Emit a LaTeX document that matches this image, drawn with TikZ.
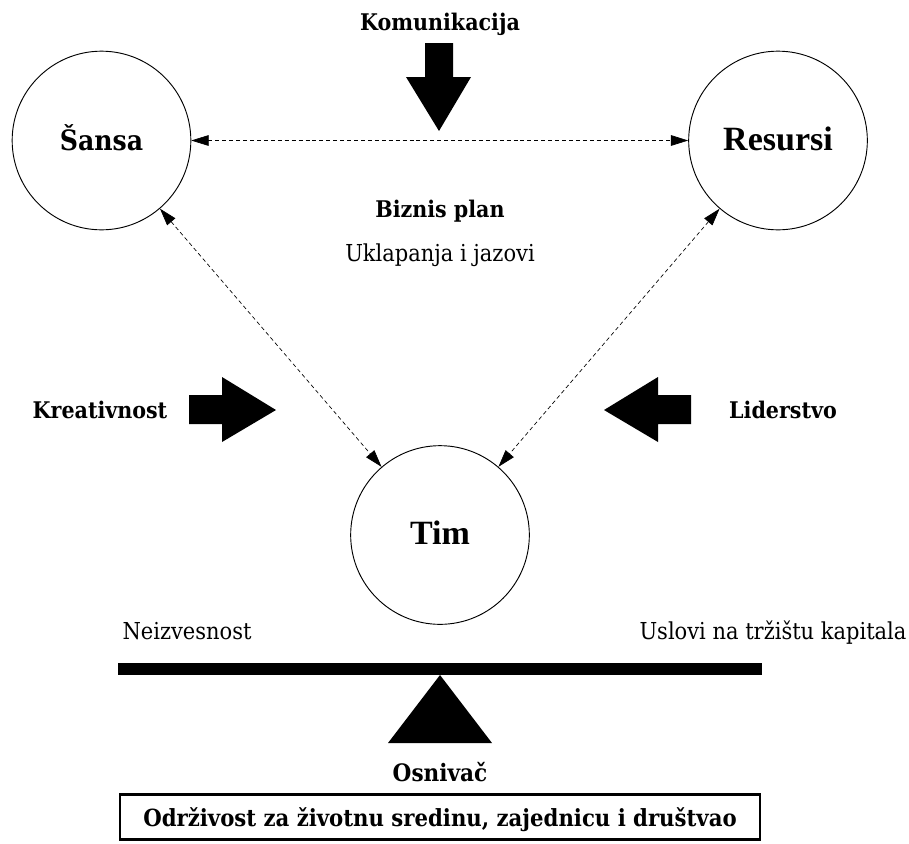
\documentclass[tikz,border=0pt]{standalone}
\usepackage{fontspec}
\setmainfont{DejaVuSerifCondensed.ttf}[BoldFont=DejaVuSerifCondensed-Bold.ttf]
\newfontfamily\plainserif{Liberation Serif}
\usetikzlibrary{arrows.meta}
\begin{document}
\begin{tikzpicture}[x=0.75pt,y=-0.75pt,
  hub/.style={circle,draw,line width=0.7pt,minimum size=134pt,inner sep=0pt,
    text height=14.5pt,text depth=0pt,font=\fontsize{21}{24}\selectfont\bfseries},
  bighub/.style={hub,font=\fontsize{25.5}{28}\selectfont\plainserif\bfseries},
  lbl/.style={anchor=base,inner sep=0pt,font=\fontsize{17.2}{20}\selectfont\bfseries},
  note/.style={anchor=base,inner sep=0pt,font=\fontsize{17.5}{20}\selectfont},
  link/.style={dash pattern=on 3pt off 2.2pt,line width=0.5pt,
    {Triangle[length=13pt,width=8pt]}-{Triangle[length=13pt,width=8pt]}},
  blockarrow/.style={fill=black,draw=none}]
\useasboundingbox (0,0) rectangle (909,843);

% the three elements
\node[hub] (sansa) at (101.5,140.5) {Šansa};
\node[bighub] (resursi) at (778,140.5) {Resursi};
\node[bighub] (tim) at (440,535) {Tim};

% dashed links between them
\draw[link] (sansa) -- (resursi);
\draw[link] (sansa) -- (tim);
\draw[link] (resursi) -- (tim);

% labels
\node[lbl] (kom) at (440,30) {Komunikacija};
\node[lbl] (biz) at (440,217) {Biznis plan};
\node[note] (ukl) at (440,261) {Uklapanja i jazovi};
\node[lbl] (kre) at (100,418) {Kreativnost};
\node[lbl] (lid) at (783,418) {Liderstvo};
\node[note] (nei) at (187,639) {Neizvesnost};
\node[note] (usl) at (773,639) {Uslovi na tržištu kapitala};
\node[lbl,font=\fontsize{18}{22}\selectfont\bfseries] (osn) at (440,781) {Osnivač};

% block arrows
\fill[blockarrow] (425,43) -- (453,43) -- (453,77) -- (471,77) -- (439,131)
  -- (406,77) -- (425,77) -- cycle;
\fill[blockarrow] (189,395) -- (222,395) -- (222,377) -- (276,410) -- (222,442)
  -- (222,424) -- (189,424) -- cycle;
\fill[blockarrow] (691,395) -- (658,395) -- (658,377) -- (604,410) -- (658,442)
  -- (658,424) -- (691,424) -- cycle;

% balance beam and fulcrum
\fill (118,663) rectangle (762,675);
\fill (440,675) -- (492,743) -- (388,743) -- cycle;

% bottom box
\node[draw,line width=2pt,minimum width=480pt,minimum height=34pt,inner sep=0pt,
  text height=13.5pt,text depth=0pt,font=\fontsize{17.7}{22}\selectfont\bfseries]
  (odr) at (440,817) {Održivost za životnu sredinu, zajednicu i društvao};
\end{tikzpicture}
\end{document}
